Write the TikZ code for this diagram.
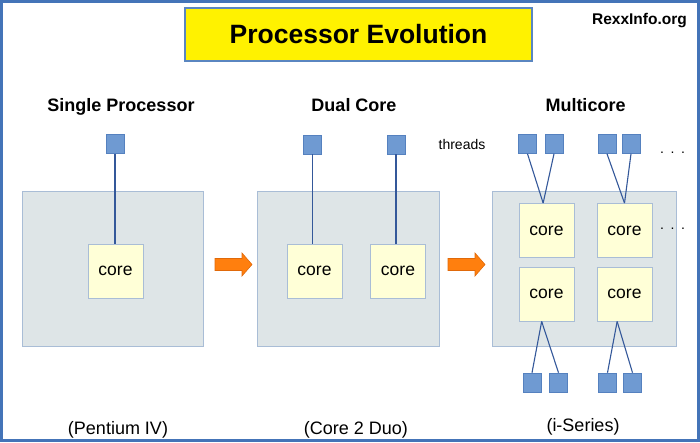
\documentclass[tikz,border=0pt]{standalone}
\usepackage{fontspec}
\setmainfont{Liberation Sans}
\definecolor{framec}{HTML}{4474B8}
\definecolor{titleborder}{HTML}{5A86C0}
\definecolor{chipfill}{HTML}{DEE5E7}
\definecolor{chipborder}{HTML}{A9BDD6}
\definecolor{corefill}{HTML}{FFFFD7}
\definecolor{threadfill}{HTML}{6F9AD2}
\definecolor{threadborder}{HTML}{5581BF}
\definecolor{linkc}{HTML}{34589A}
\definecolor{arrowfill}{HTML}{FF7F0E}
\definecolor{arrowborder}{HTML}{E0690A}
\tikzset{
  chip/.style={draw=chipborder, fill=chipfill, line width=0.9pt, inner sep=0pt},
  corebox/.style={draw=chipborder, fill=corefill, line width=0.9pt, inner sep=0pt,
    minimum width=55pt, minimum height=54pt, font=\fontsize{17.5}{20}\selectfont},
  thread/.style={draw=threadborder, fill=threadfill, line width=0.6pt, inner sep=0pt,
    minimum width=18pt, minimum height=19pt},
  link/.style={draw=linkc, line width=1.1pt},
  heading/.style={anchor=base, font=\fontsize{18}{20}\selectfont\bfseries},
  caption/.style={anchor=base, font=\fontsize{18}{20}\selectfont},
  dots/.style={anchor=base, font=\fontsize{14}{16}\selectfont},
  bigarrow/.style={fill=arrowfill, draw=arrowborder, line width=0.6pt, line join=miter}
}
\begin{document}
\begin{tikzpicture}[x=1pt,y=-1pt]
\useasboundingbox (0,0) rectangle (700,442);
\fill[white] (0,0) rectangle (700,442);
\draw[framec, line width=3pt] (1.5,1.5) rectangle (698.5,440.5);

% title
\node[draw=titleborder, fill=yellow, line width=1.2pt, minimum width=347pt, minimum height=53pt,
  inner sep=0pt, font=\fontsize{26.5}{30}\selectfont\bfseries] (title) at (358.5,34.5) {Processor Evolution};
\node[anchor=base, font=\fontsize{15.5}{18}\selectfont\bfseries] (site) at (639.5,24.5) {RexxInfo.org};

% headings
\node[heading] (h1) at (121,111) {Single Processor};
\node[heading] (h2) at (354,111) {Dual Core};
\node[heading] (h3) at (585.5,111) {Multicore};
\node[anchor=base, font=\fontsize{14}{16}\selectfont] (thr) at (462,149.5) {threads};

% chips
\node[chip, minimum width=181pt, minimum height=155pt] (chipA) at (112.5,268.5) {};
\node[chip, minimum width=182pt, minimum height=155pt] (chipB) at (348,268.5) {};
\node[chip, minimum width=184pt, minimum height=155pt] (chipC) at (584,268.5) {};

% cores
\node[corebox] (a1) at (115.5,271) {core};
\node[corebox] (b1) at (314.5,271) {core};
\node[corebox] (b2) at (398,271) {core};
\node[corebox] (m1) at (546.5,230.5) {core};
\node[corebox] (m2) at (624.5,230.5) {core};
\node[corebox] (m3) at (546.5,294) {core};
\node[corebox] (m4) at (624.5,294) {core};

% threads
\node[thread] (t1) at (115,144) {};
\node[thread] (d1) at (312.5,144.5) {};
\node[thread] (d2) at (396,144.5) {};
\node[thread] (u1) at (527.5,144) {};
\node[thread] (u2) at (554,144) {};
\node[thread] (u3) at (607,144) {};
\node[thread] (u4) at (631,144) {};
\node[thread] (l1) at (532,382.5) {};
\node[thread] (l2) at (558.5,382.5) {};
\node[thread] (l3) at (607.5,382.5) {};
\node[thread] (l4) at (632.5,382.5) {};

% links
\draw[link] (t1.south) -- (t1.south |- a1.north);
\draw[link] (d1.south) -- (d1.south |- b1.north);
\draw[link] (d2.south) -- (d2.south |- b2.north);
\draw[link] (u1.south) -- (m1.97);
\draw[link] (u2.south) -- (m1.97);
\draw[link] (u3.south) -- (m2.north);
\draw[link] (u4.south) -- (m2.north);
\draw[link] (m3.-100) -- (l1.north);
\draw[link] (m3.-100) -- (l2.north);
\draw[link] (m4.-105) -- (l3.north);
\draw[link] (m4.-105) -- (l4.north);

% dots
\node[dots] (dotsA) at (672.5,153) {.\hspace{6.6pt}.\hspace{6.6pt}.};
\node[dots] (dotsB) at (672.5,229) {.\hspace{6.6pt}.\hspace{6.6pt}.};

% arrows
\draw[bigarrow] (215,258.5) -- (242,258.5) -- (242,253) -- (252,264.5) -- (242,276) -- (242,270.5) -- (215,270.5) -- cycle;
\draw[bigarrow] (448,258.5) -- (475,258.5) -- (475,253) -- (485,264.5) -- (475,276) -- (475,270.5) -- (448,270.5) -- cycle;

% captions
\node[caption] (c1) at (118,434) {(Pentium IV)};
\node[caption] (c2) at (356,434) {(Core 2 Duo)};
\node[caption] (c3) at (583,431) {(i-Series)};
\end{tikzpicture}
\end{document}
